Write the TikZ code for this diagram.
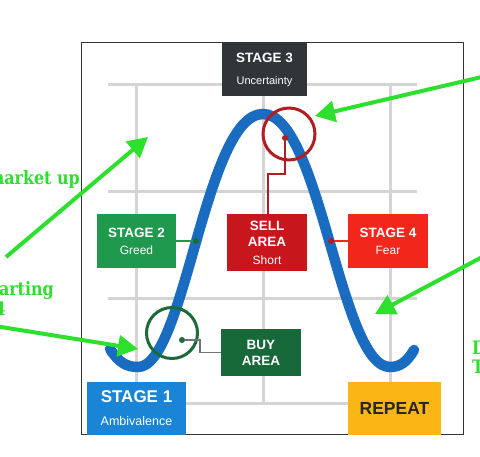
\documentclass[tikz,border=0pt]{standalone}
\usepackage{fontspec}
\setmainfont{Liberation Sans}
\newfontfamily\slabfont{DejaVu Serif}[FakeStretch=0.86]
\usetikzlibrary{arrows.meta}
\definecolor{gridc}{HTML}{D4D4D4}
\definecolor{curvec}{HTML}{1A6CC0}
\definecolor{s3c}{HTML}{323538}
\definecolor{s2c}{HTML}{1F9A4C}
\definecolor{sellc}{HTML}{C8161D}
\definecolor{s4c}{HTML}{F3261B}
\definecolor{buyc}{HTML}{17693A}
\definecolor{s1c}{HTML}{1A85D6}
\definecolor{repc}{HTML}{FBB615}
\definecolor{annc}{HTML}{2EE02E}
\definecolor{circg}{HTML}{1B6B3A}
\definecolor{circr}{HTML}{B01E23}
\tikzset{
  box/.style={rectangle, inner sep=0pt, text=white, align=center, font=\fontsize{13.5}{16}\selectfont\bfseries},
  gridline/.style={draw=gridc, line width=3pt},
  ann/.style={draw=annc, line width=4pt, -{Triangle[length=20pt,width=21pt]}},
  anntext/.style={text=annc, inner sep=0pt, font=\slabfont\bfseries\fontsize{18.5}{20}\selectfont},
  dotg/.style={circle, fill=circg, inner sep=0pt, minimum size=6pt},
  dotr/.style={circle, fill=circr, inner sep=0pt, minimum size=6pt}
}
\begin{document}
\begin{tikzpicture}[x=1pt,y=-1pt]
\useasboundingbox (0,0) rectangle (480,457);
\clip (0,0) rectangle (480,457);
\fill[white] (0,0) rectangle (480,457);
% frame
\draw[draw=black!80, line width=1pt] (81,43) rectangle (463,435);
% grid
\foreach \yy in {85,192,299,404} \draw[gridline] (108,\yy) -- (417,\yy);
\foreach \xx in {136,263,390} \draw[gridline] (\xx,85) -- (\xx,404);
% curve
\draw[curvec, line width=10.5pt, line cap=round]
  (110,349) .. controls (119,363) and (127,367) .. (138,367)
  .. controls (185,367) and (205,114) .. (263,114)
  .. controls (320,114) and (340,367) .. (390,367)
  .. controls (400,367) and (407,362) .. (414,350);
% circles
\node[circle, draw=circg, line width=3pt, minimum size=51pt, inner sep=0pt] (gcirc) at (172,333) {};
\node[circle, draw=circr, line width=3pt, minimum size=52pt, inner sep=0pt] (rcirc) at (289,134) {};
% boxes
\node[box, fill=s3c, minimum width=85pt, minimum height=53pt] (s3) at (264.5,69.5)
  {STAGE 3\\[6pt]{\fontsize{11}{13}\selectfont\mdseries Uncertainty}};
\node[box, fill=s2c, minimum width=79pt, minimum height=54pt] (s2) at (136.5,241)
  {STAGE 2\\[1pt]{\fontsize{12}{13}\selectfont\mdseries Greed}};
\node[box, fill=sellc, minimum width=80pt, minimum height=57pt] (sell) at (267,242.5)
  {SELL\\AREA\\[2pt]{\fontsize{12}{13}\selectfont\mdseries Short}};
\node[box, fill=s4c, minimum width=80pt, minimum height=54pt] (s4) at (388,241)
  {STAGE 4\\[1pt]{\fontsize{12}{13}\selectfont\mdseries Fear}};
\node[box, fill=buyc, minimum width=80pt, minimum height=47pt] (buy) at (261,352.5)
  {BUY\\AREA};
\node[box, fill=s1c, minimum width=99pt, minimum height=53pt, font=\fontsize{17}{19}\selectfont\bfseries] (s1) at (136.5,408.5)
  {STAGE 1\\[4pt]{\fontsize{12.5}{14}\selectfont\mdseries Ambivalence}};
\node[box, fill=repc, text=black!85, minimum width=93pt, minimum height=53pt, font=\fontsize{17.5}{19}\selectfont\bfseries] (rep) at (394.5,408.5)
  {REPEAT};
% connector dots
\node[dotg] (d2) at (196,241) {};
\node[dotr] (d4) at (331,241) {};
\node[dotr] (dsell) at (285,138) {};
\node[dotg] (dbuy) at (182,340) {};
\coordinate (sellA) at (285,174);
\coordinate (sellB) at (268,174);
\coordinate (buyA) at (200,340);
\coordinate (buyB) at (200,352.5);
\draw[s2c, line width=1.5pt] (s2.east) -- (d2);
\draw[s4c, line width=1.5pt] (s4.west) -- (d4);
\draw[circr, line width=1.5pt] (dsell) -- (sellA) -- (sellB) -- (sellB |- sell.north);
\draw[black!55, line width=1.5pt] (dbuy) -- (buyA) -- (buyB) -- (buy.west);
% annotation arrows
\coordinate (a1s) at (6,257);   \coordinate (a1e) at (148,137);
\coordinate (a2s) at (-5,326);  \coordinate (a2e) at (138,349);
\coordinate (a3s) at (486,76);  \coordinate (a3e) at (315,116);
\coordinate (a4s) at (486,255); \coordinate (a4e) at (375,314);
\draw[ann] (a1s) -- (a1e);
\draw[ann] (a2s) -- (a2e);
\draw[ann] (a3s) -- (a3e);
\draw[ann] (a4s) -- (a4e);
% annotation texts (cut by picture edge, as in the reference)
\node[anntext, anchor=base east] (t1) at (80,185) {market up};
\node[anntext, anchor=base east] (t2) at (54,296) {Starting};
\node[anntext, anchor=base east] (t3) at (6,316) {4};
\node[anntext, anchor=base west] (t4) at (472,355) {D};
\node[anntext, anchor=base west] (t5) at (472,374) {T};
\end{tikzpicture}
\end{document}
